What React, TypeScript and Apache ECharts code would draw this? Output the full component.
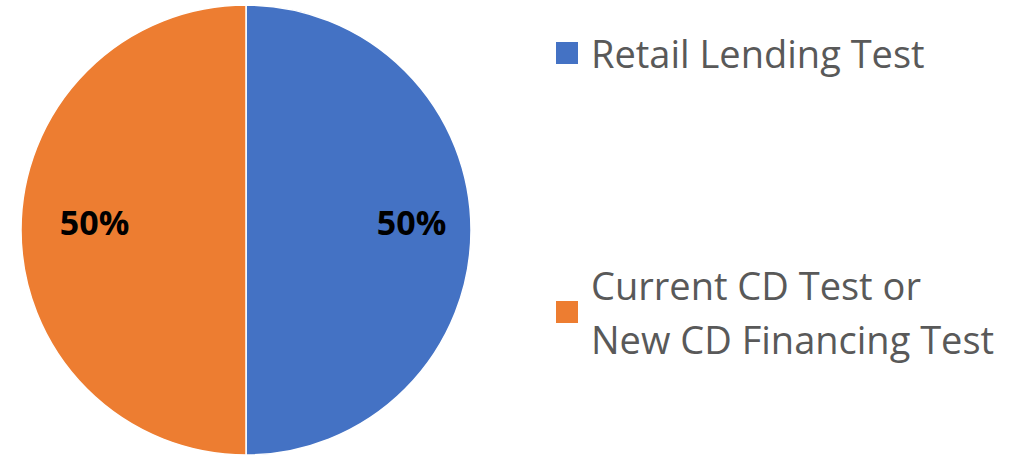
import React, { useEffect, useRef } from "react";
import * as echarts from "echarts";

const categories = ["Retail Lending Test", "Current CD Test or\nNew CD Financing Test"];
const values = [50, 50];
const colors = ["#4472C4", "#ED7D31"];

export default function App() {
  const ref = useRef<HTMLDivElement>(null);
  useEffect(() => {
    document.body.style.margin = "0";
    const chart = echarts.init(ref.current!, null, { renderer: "svg" });
    const data = categories.map((name, i) => ({ name, value: values[i], itemStyle: { color: colors[i] } }));
    const legendBase = {
      orient: "vertical",
      left: 554,
      padding: 0,
      itemWidth: 24,
      itemHeight: 24,
      icon: "rect",
      selectedMode: false,
    };
    chart.setOption({
      animation: false,
      backgroundColor: "#ffffff",
      legend: [
        {
          ...legendBase,
          top: 34,
          data: [categories[0]],
          textStyle: { fontFamily: "Open Sans", fontSize: 38, color: "#595959", padding: [0, 0, 0, 7] },
        },
        {
          ...legendBase,
          top: 266,
          data: [categories[1]],
          textStyle: {
            fontFamily: "Open Sans",
            fontSize: 38,
            color: "#595959",
            lineHeight: 54,
            height: 54,
            padding: [0, 0, 0, 7],
          },
        },
      ],
      series: [
        {
          type: "pie",
          center: [246, 230],
          radius: [0, 225],
          startAngle: 90,
          clockwise: true,
          data,
          itemStyle: { borderColor: "#ffffff", borderWidth: 1.5 },
          label: {
            show: true,
            position: "inside",
            formatter: "{d}%",
            fontFamily: "Open Sans",
            fontWeight: "bold",
            fontSize: 34,
            color: "#000000",
          },
          labelLine: { show: false },
          labelLayout: (p: any) => ({ dx: p.dataIndex === 0 ? 50 : -36, dy: -8 }),
          emphasis: { disabled: true },
        },
      ],
    });
    return () => chart.dispose();
  }, []);
  return <div ref={ref} style={{ position: "fixed", left: 0, top: 0, width: 1025, height: 456 }} />;
}
